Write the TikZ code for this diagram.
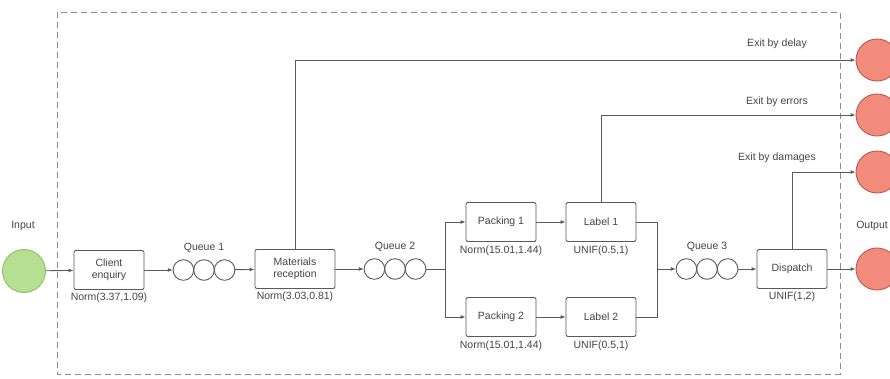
\documentclass[tikz,border=0pt]{standalone}
\usepackage{fontspec}
\setmainfont{Liberation Sans}
\usepackage{xcolor}
\usetikzlibrary{positioning}
\usetikzlibrary{arrows.meta}
\definecolor{linegray}{HTML}{5A5A5A}
\definecolor{framegray}{HTML}{8C8C8C}
\definecolor{textgray}{HTML}{444444}
\definecolor{ingreen}{HTML}{B6DF92}
\definecolor{ingreenline}{HTML}{8CBF66}
\definecolor{outred}{HTML}{F28B7B}
\definecolor{outredline}{HTML}{C0574A}
\tikzstyle{stage} = [draw=linegray, fill=white, line width=0.9pt,
rounded corners=2pt, minimum width=70pt, minimum height=39pt,
align=center, text=textgray, font=\fontsize{10.5}{12.5}\selectfont, inner sep=2pt]
\tikzstyle{queue} = [minimum width=62pt, minimum height=21pt, inner sep=0pt]
\tikzstyle{ring} = [draw=linegray, line width=0.9pt]
\tikzstyle{txt} = [text=textgray, font=\fontsize{10.5}{12}\selectfont, inner sep=1pt]
\tikzstyle{src} = [circle, draw=ingreenline, fill=ingreen, line width=0.9pt,
minimum size=43pt, inner sep=0pt]
\tikzstyle{sink} = [circle, draw=outredline, fill=outred, line width=0.9pt,
minimum size=42pt, inner sep=0pt]
\tikzstyle{flow} = [draw=linegray, line width=0.9pt, -{Latex[length=5pt,width=4pt]}]
\tikzstyle{line} = [draw=linegray, line width=0.9pt]
\tikzstyle{frame} = [draw=framegray, line width=1pt, dash pattern=on 6pt off 4pt]
\newcommand{\rings}[1]{%
\foreach \i in {-1,0,1}
    \draw[ring] ([xshift={\i*20.6pt}]#1.center) circle (10.3pt);
}

\begin{document}
\begin{tikzpicture}[x=1pt, y=-1pt]
        \useasboundingbox (0,0) rectangle (890,378);
        \draw[frame] (57,12) rectangle (840,374);

        % main line
        \node[src] (in) at (24,271) {};
        \node[txt] (inlbl) at (23,226) {Input};
        \node[stage] (ce) at (109,270) {Client\\enquiry};
        \node[txt, below=2pt of ce] (celbl) {Norm(3.37,1.09)};
        \node[queue] (q1) at (204,270) {};
        \node[txt, above=6pt of q1] (q1lbl) {Queue 1};
        \node[stage, minimum width=80pt] (mr) at (295,269) {Materials\\reception};
        \node[txt, below=2pt of mr] (mrlbl) {Norm(3.03,0.81)};
        \node[queue] (q2) at (395,269) {};
        \node[txt, above=6pt of q2] (q2lbl) {Queue 2};

        % two packing lines
        \node[stage] (pk1) at (501,222) {Packing 1};
        \node[txt, below=3pt of pk1] (pk1lbl) {Norm(15.01,1.44)};
        \node[stage] (pk2) at (501,317) {Packing 2};
        \node[txt, below=3pt of pk2] (pk2lbl) {Norm(15.01,1.44)};
        \node[stage] (lb1) at (601,222) {Label 1};
        \node[txt, below=3pt of lb1] (lb1lbl) {UNIF(0.5,1)};
        \node[stage] (lb2) at (601,317) {Label 2};
        \node[txt, below=3pt of lb2] (lb2lbl) {UNIF(0.5,1)};

        \node[queue] (q3) at (707,269) {};
        \node[txt, above=6pt of q3] (q3lbl) {Queue 3};
        \node[stage] (dp) at (792,269) {Dispatch};
        \node[txt, below=2pt of dp] (dplbl) {UNIF(1,2)};

        % exits
        \node[sink] (out) at (877,269) {};
        \node[txt, anchor=east] (outlbl) at (889,226) {Output};
        \node[sink] (delay) at (877,60) {};
        \node[txt] (delaylbl) at (777,44) {Exit by delay};
        \node[sink] (errors) at (877,115) {};
        \node[txt] (errorslbl) at (777,102) {Exit by errors};
        \node[sink] (damages) at (877,172) {};
        \node[txt] (damageslbl) at (777,158) {Exit by damages};

        \coordinate (split) at (445,269);
        \coordinate (merge) at (657,269);

        \rings{q1}
        \rings{q2}
        \rings{q3}

        \draw[flow] (in) -- (ce);
        \draw[flow] (ce) -- (q1);
        \draw[flow] (q1) -- (mr);
        \draw[flow] (mr) -- (q2);
        \draw[line] (q2) -- (split);
        \draw[flow] (split) |- (pk1);
        \draw[flow] (split) |- (pk2);
        \draw[flow] (pk1) -- (lb1);
        \draw[flow] (pk2) -- (lb2);
        \draw[line] (lb1) -| (merge);
        \draw[line] (lb2) -| (merge);
        \draw[flow] (merge) -- (q3);
        \draw[flow] (q3) -- (dp);
        \draw[flow] (dp) -- (out);
        \draw[flow] (mr.north) |- (delay);
        \draw[flow] (lb1.north) |- (errors);
        \draw[flow] (dp.north) |- (damages);
    \end{tikzpicture}
\end{document}
